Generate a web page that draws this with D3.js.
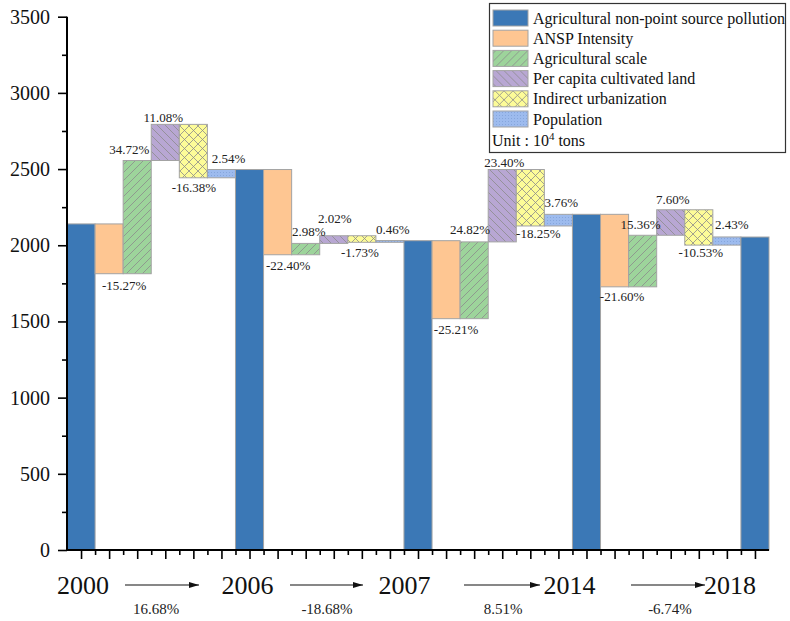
<!DOCTYPE html>
<html>
<head>
<meta charset="utf-8">
<script src="https://cdn.jsdelivr.net/npm/d3@7/dist/d3.min.js"></script>
<style>
  html, body { margin: 0; padding: 0; background: #fff; }
  svg text { font-family: "Liberation Serif", Tinos, "Times New Roman", Times, "DejaVu Serif", serif; }
</style>
</head>
<body>
<svg id="chart" width="790" height="621"></svg>
<script>
// Years compared and the pollution total (10^4 tons) in each
const years = ["2000", "2006", "2007", "2014", "2018"];
const totals = [2140, 2497, 2030, 2203, 2054];

// Overall change between consecutive years (%)
const periodChange = ["16.68%", "-18.68%", "8.51%", "-6.74%"];

// Decomposition factors, in the order they are stacked in each period
const factors = ["ANSP Intensity", "Agricultural scale", "Per capita cultivated land",
                 "Indirect urbanization", "Population"];

// Contribution of each factor to the change in each period (% of the starting total)
const contrib2000to2006 = [-15.27, 34.72, 11.08, -16.38, 2.54];
const contrib2006to2007 = [-22.40, 2.98, 2.02, -1.73, 0.46];
const contrib2007to2014 = [-25.21, 24.82, 23.40, -18.25, 3.76];
const contrib2014to2018 = [-21.60, 15.36, 7.60, -10.53, 2.43];
const contributions = [contrib2000to2006, contrib2006to2007, contrib2007to2014, contrib2014to2018];

const yTicks = [0, 500, 1000, 1500, 2000, 2500, 3000, 3500];

// ---- layout ----
const svg = d3.select("#chart");
const serif = '"Liberation Serif", Tinos, "Times New Roman", Times, "DejaVu Serif", serif';
const x0 = 67, x1 = 769, yTop = 16.7, yBase = 550;
const nSlots = years.length + factors.length * (years.length - 1);
const x = d3.scaleLinear().domain([0, nSlots]).range([x0, x1]);
const y = d3.scaleLinear().domain([0, 3500]).range([yBase, yTop]);
const slotW = x(1) - x(0);

// label nudges (dx, dy) for each factor label, per period
const labelNudge = [
  [[15, 16], [-8, -7], [-2, -2], [0.5, 14], [7, -7]],
  [[10.5, 15], [3, -7], [1, -13], [-2, 15], [3, -7]],
  [[10, 15], [-4, -8], [2, -3], [8, 12], [3, -7]],
  [[7.5, 14], [-2, -6], [2, -6], [2, 12], [5, -8]]
];

// ---- fills / patterns ----
const defs = svg.append("defs");
function hatch(id, bg, paths, size, strokeW) {
  const p = defs.append("pattern").attr("id", id).attr("patternUnits", "userSpaceOnUse")
    .attr("width", size).attr("height", size);
  p.append("rect").attr("width", size).attr("height", size).attr("fill", bg);
  paths.forEach(d => p.append("path").attr("d", d).attr("stroke", "#8c8c8c")
    .attr("stroke-width", strokeW).attr("fill", "none"));
}
const s = 8;
hatch("pat-scale", "#9dd49b", [`M0,${s} L${s},0`, `M-2,2 L2,-2`, `M${s - 2},${s + 2} L${s + 2},${s - 2}`], s, 0.8);
hatch("pat-land", "#b8a7d3", [`M0,0 L${s},${s}`, `M-2,${s - 2} L2,${s + 2}`, `M${s - 2},-2 L${s + 2},2`], s, 0.8);
const c = 9;
hatch("pat-urban", "#fdfc98", [`M0,${c} L${c},0`, `M-2,2 L2,-2`, `M${c - 2},${c + 2} L${c + 2},${c - 2}`,
  `M0,0 L${c},${c}`, `M-2,${c - 2} L2,${c + 2}`, `M${c - 2},-2 L${c + 2},2`], c, 0.8);
{
  const p = defs.append("pattern").attr("id", "pat-pop").attr("patternUnits", "userSpaceOnUse")
    .attr("width", 3).attr("height", 3);
  p.append("rect").attr("width", 3).attr("height", 3).attr("fill", "#9dbbee");
  p.append("rect").attr("x", 1).attr("y", 1).attr("width", 1).attr("height", 1).attr("fill", "#86a6dc");
}
const totalFill = "#3b78b6";
const factorFill = ["#fec692", "url(#pat-scale)", "url(#pat-land)", "url(#pat-urban)", "url(#pat-pop)"];
const barStroke = "#a3a3a3";

// ---- build waterfall segments ----
const segments = [];
years.forEach((yr, g) => {
  segments.push({ slot: g * 6, lo: 0, hi: totals[g], fill: totalFill, total: true });
  if (g < contributions.length) {
    let level = totals[g];
    contributions[g].forEach((pct, k) => {
      const next = level + totals[g] * pct / 100;
      segments.push({
        slot: g * 6 + 1 + k, lo: Math.min(level, next), hi: Math.max(level, next),
        fill: factorFill[k], pct, nudge: labelNudge[g][k]
      });
      level = next;
    });
  }
});

// ---- bars ----
svg.append("g").selectAll("rect").data(segments).join("rect")
  .attr("x", d => x(d.slot))
  .attr("width", slotW)
  .attr("y", d => y(d.hi))
  .attr("height", d => y(d.lo) - y(d.hi))
  .attr("fill", d => d.fill)
  .attr("stroke", barStroke)
  .attr("stroke-width", 1);

// ---- value labels ----
svg.append("g").selectAll("text").data(segments.filter(d => !d.total)).join("text")
  .attr("x", d => x(d.slot + 0.5) + d.nudge[0])
  .attr("y", d => (d.pct >= 0 ? y(d.hi) : y(d.lo)) + d.nudge[1])
  .attr("text-anchor", "middle")
  .attr("font-family", serif)
  .attr("font-size", 13)
  .attr("fill", "#222")
  .text(d => d.pct.toFixed(2) + "%");

// ---- y axis ----
const yAxisMinor = d3.axisLeft(y).tickValues(d3.range(250, 3500, 500)).tickSize(5).tickFormat("");
svg.append("g").attr("transform", `translate(${x0},0)`).call(yAxisMinor)
  .call(g => g.select(".domain").remove())
  .call(g => g.selectAll("line").attr("stroke", "#000").attr("stroke-width", 1.6));
const yAxis = d3.axisLeft(y).tickValues(yTicks).tickSize(9).tickPadding(8).tickFormat(d3.format("d"));
svg.append("g").attr("transform", `translate(${x0},0)`).call(yAxis)
  .attr("font-family", serif)
  .call(g => g.select(".domain").attr("stroke", "#000").attr("stroke-width", 2)
    .attr("d", `M0,${yTop}V${yBase}`))
  .call(g => g.selectAll("line").attr("stroke", "#000").attr("stroke-width", 1.6))
  .call(g => g.selectAll("text").attr("font-size", 20).attr("fill", "#111"));

// ---- x axis ----
const xMajor = d3.axisBottom(x).tickValues(d3.range(0.5, nSlots, 1)).tickSize(9).tickFormat("");
const xMinor = d3.axisBottom(x).tickValues(d3.range(1, nSlots, 1)).tickSize(5).tickFormat("");
svg.append("g").attr("transform", `translate(0,${yBase})`).call(xMinor)
  .call(g => g.select(".domain").remove())
  .call(g => g.selectAll("line").attr("stroke", "#000").attr("stroke-width", 1.6));
svg.append("g").attr("transform", `translate(0,${yBase})`).call(xMajor)
  .call(g => g.select(".domain").attr("stroke", "#000").attr("stroke-width", 2)
    .attr("d", `M${x0},0H${x1}`))
  .call(g => g.selectAll("line").attr("stroke", "#000").attr("stroke-width", 1.6));

// ---- year labels, arrows and period changes ----
const yearNudge = [2, -2, -13.5, -17, -25];
svg.append("g").selectAll("text").data(years).join("text")
  .attr("x", (d, i) => x(i * 6 + 0.5) + yearNudge[i])
  .attr("y", 594)
  .attr("text-anchor", "middle")
  .attr("font-family", serif)
  .attr("font-size", 26)
  .attr("fill", "#111")
  .text(d => d);

defs.append("marker").attr("id", "arrowhead").attr("viewBox", "0 0 10 6")
  .attr("refX", 10).attr("refY", 3).attr("markerWidth", 10).attr("markerHeight", 6)
  .attr("markerUnits", "userSpaceOnUse").attr("orient", "auto")
  .append("path").attr("d", "M0,0 L10,3 L0,6 Z").attr("fill", "#111");

const arrowSpan = [[125, 199], [290, 363], [464, 540], [631, 705]];
svg.append("g").selectAll("line").data(arrowSpan).join("line")
  .attr("x1", d => d[0]).attr("x2", d => d[1])
  .attr("y1", 585).attr("y2", 585)
  .attr("stroke", "#111").attr("stroke-width", 1.2)
  .attr("marker-end", "url(#arrowhead)");

const changeX = [156, 327, 503, 670];
svg.append("g").selectAll("text").data(periodChange).join("text")
  .attr("x", (d, i) => changeX[i])
  .attr("y", 614)
  .attr("text-anchor", "middle")
  .attr("font-family", serif)
  .attr("font-size", 15)
  .attr("fill", "#222")
  .text(d => d);

// ---- legend ----
const legendItems = [{ name: "Agricultural non-point source pollution", fill: totalFill }]
  .concat(factors.map((f, k) => ({ name: f, fill: factorFill[k] })));
const lg = svg.append("g").attr("font-family", serif);
lg.append("rect").attr("x", 489.5).attr("y", 3.5).attr("width", 296).attr("height", 149)
  .attr("fill", "#fff").attr("stroke", "#333").attr("stroke-width", 1.2);
const rows = lg.selectAll("g.item").data(legendItems).join("g").attr("class", "item")
  .attr("transform", (d, i) => `translate(0,${10 + i * 20.2})`);
rows.append("rect").attr("x", 493).attr("y", 0).attr("width", 35).attr("height", 16)
  .attr("fill", d => d.fill).attr("stroke", barStroke).attr("stroke-width", 1);
rows.append("text").attr("x", 533).attr("y", 13.5).attr("font-size", 16).attr("fill", "#111")
  .text(d => d.name);
const unit = lg.append("text").attr("x", 492).attr("y", 146).attr("font-size", 16).attr("fill", "#111");
unit.append("tspan").text("Unit : 10");
unit.append("tspan").attr("font-size", 11).attr("dy", -6).text("4");
unit.append("tspan").attr("dy", 6).text(" tons");
</script>
</body>
</html>
